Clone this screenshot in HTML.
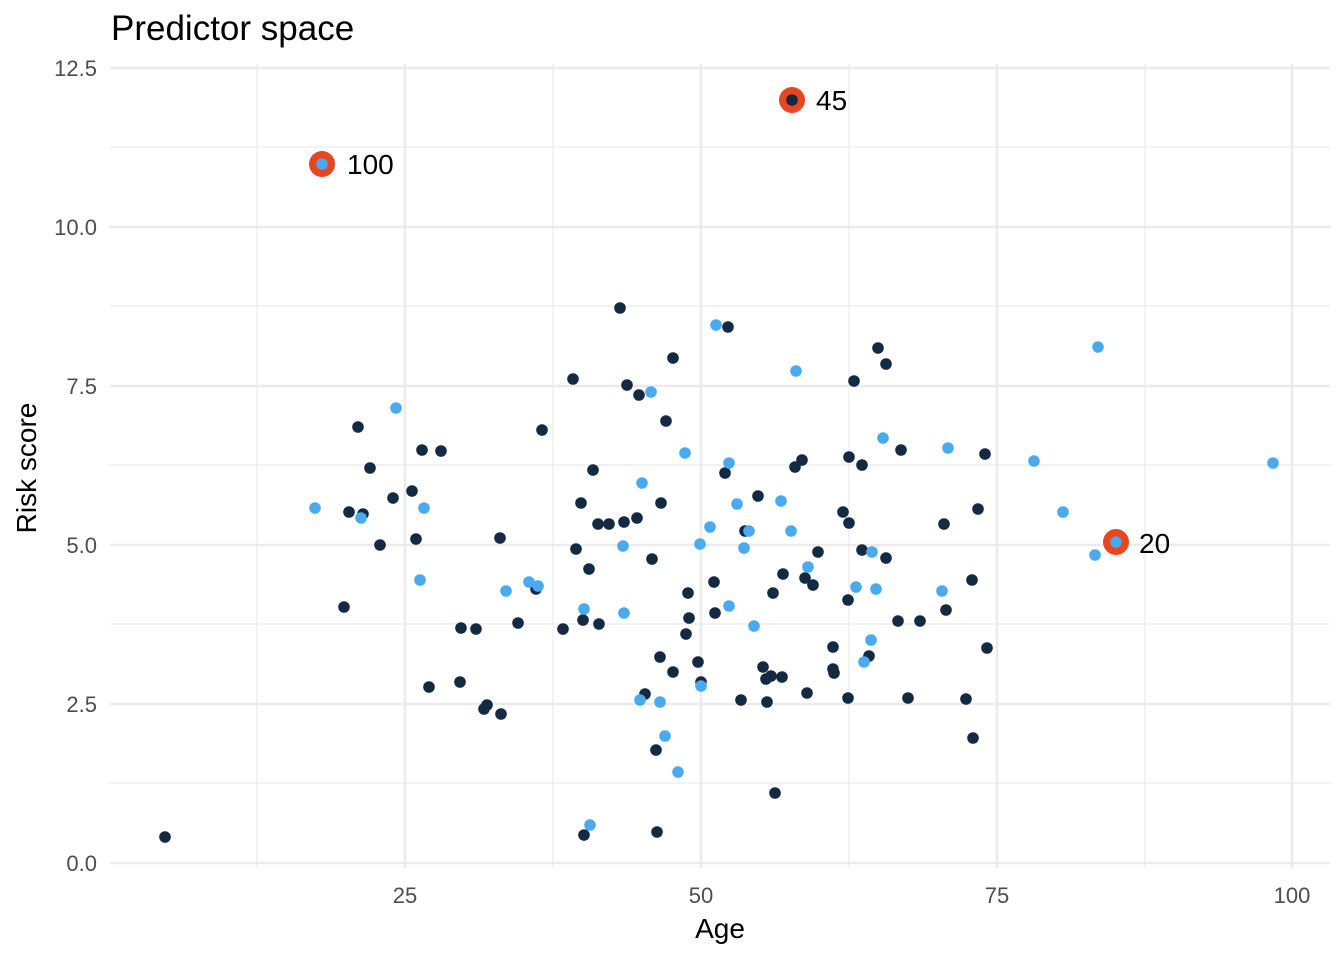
<!DOCTYPE html>
<html><head><meta charset="utf-8"><style>html,body{margin:0;padding:0;background:#fff}svg{display:block}</style></head>
<body>
<svg width="1344" height="960" xmlns="http://www.w3.org/2000/svg" font-family="Liberation Sans, sans-serif">
<rect width="1344" height="960" fill="#fff"/>
<g stroke="#ebebeb" stroke-width="1.2">
<line x1="257" y1="64" x2="257" y2="868"/><line x1="553" y1="64" x2="553" y2="868"/><line x1="849" y1="64" x2="849" y2="868"/><line x1="1145" y1="64" x2="1145" y2="868"/>
<line x1="110" y1="783" x2="1330" y2="783"/><line x1="110" y1="624" x2="1330" y2="624"/><line x1="110" y1="465" x2="1330" y2="465"/><line x1="110" y1="306" x2="1330" y2="306"/><line x1="110" y1="147" x2="1330" y2="147"/>
</g>
<g stroke="#ebebeb" stroke-width="2.4">
<line x1="405" y1="64" x2="405" y2="868"/><line x1="701" y1="64" x2="701" y2="868"/><line x1="997" y1="64" x2="997" y2="868"/><line x1="1292" y1="64" x2="1292" y2="868"/>
<line x1="110" y1="863" x2="1330" y2="863"/><line x1="110" y1="704" x2="1330" y2="704"/><line x1="110" y1="545" x2="1330" y2="545"/><line x1="110" y1="386" x2="1330" y2="386"/><line x1="110" y1="227" x2="1330" y2="227"/><line x1="110" y1="68" x2="1330" y2="68"/>
</g>
<g fill="#4d4d4d" font-size="22" text-anchor="end">
<text x="97" y="871">0.0</text><text x="97" y="712">2.5</text><text x="97" y="553">5.0</text><text x="97" y="394">7.5</text><text x="97" y="235">10.0</text><text x="97" y="76">12.5</text>
</g>
<g fill="#4d4d4d" font-size="22" text-anchor="middle">
<text x="405" y="903">25</text><text x="701" y="903">50</text><text x="997" y="903">75</text><text x="1292" y="903">100</text>
</g>
<text x="720" y="938" font-size="28" text-anchor="middle" fill="#000">Age</text>
<text transform="translate(36,468) rotate(-90)" font-size="28" text-anchor="middle" fill="#000">Risk score</text>
<text x="111" y="40" font-size="35" fill="#000">Predictor space</text>
<g fill="#132a42">
<circle cx="165" cy="837" r="5.8"/><circle cx="344" cy="607" r="5.8"/><circle cx="349" cy="512" r="5.8"/><circle cx="358" cy="427" r="5.8"/><circle cx="363" cy="514" r="5.8"/><circle cx="370" cy="468" r="5.8"/><circle cx="380" cy="545" r="5.8"/><circle cx="393" cy="498" r="5.8"/><circle cx="412" cy="491" r="5.8"/><circle cx="416" cy="539" r="5.8"/><circle cx="422" cy="450" r="5.8"/><circle cx="429" cy="687" r="5.8"/><circle cx="441" cy="451" r="5.8"/><circle cx="461" cy="628" r="5.8"/><circle cx="460" cy="682" r="5.8"/><circle cx="476" cy="629" r="5.8"/><circle cx="484" cy="709" r="5.8"/><circle cx="487" cy="705" r="5.8"/><circle cx="500" cy="538" r="5.8"/><circle cx="501" cy="714" r="5.8"/><circle cx="518" cy="623" r="5.8"/><circle cx="536" cy="589" r="5.8"/><circle cx="542" cy="430" r="5.8"/><circle cx="563" cy="629" r="5.8"/><circle cx="573" cy="379" r="5.8"/><circle cx="576" cy="549" r="5.8"/><circle cx="581" cy="503" r="5.8"/><circle cx="583" cy="620" r="5.8"/><circle cx="584" cy="835" r="5.8"/><circle cx="589" cy="569" r="5.8"/><circle cx="593" cy="470" r="5.8"/><circle cx="598" cy="524" r="5.8"/><circle cx="599" cy="624" r="5.8"/><circle cx="609" cy="524" r="5.8"/><circle cx="620" cy="308" r="5.8"/><circle cx="624" cy="522" r="5.8"/><circle cx="627" cy="385" r="5.8"/><circle cx="637" cy="518" r="5.8"/><circle cx="639" cy="395" r="5.8"/><circle cx="645" cy="694" r="5.8"/><circle cx="652" cy="559" r="5.8"/><circle cx="656" cy="750" r="5.8"/><circle cx="657" cy="832" r="5.8"/><circle cx="660" cy="657" r="5.8"/><circle cx="661" cy="503" r="5.8"/><circle cx="666" cy="421" r="5.8"/><circle cx="673" cy="358" r="5.8"/><circle cx="673" cy="672" r="5.8"/><circle cx="686" cy="634" r="5.8"/><circle cx="688" cy="593" r="5.8"/><circle cx="689" cy="618" r="5.8"/><circle cx="698" cy="662" r="5.8"/><circle cx="701" cy="682" r="5.8"/><circle cx="714" cy="582" r="5.8"/><circle cx="715" cy="613" r="5.8"/><circle cx="725" cy="473" r="5.8"/><circle cx="728" cy="327" r="5.8"/><circle cx="741" cy="700" r="5.8"/><circle cx="745" cy="531" r="5.8"/><circle cx="758" cy="496" r="5.8"/><circle cx="763" cy="667" r="5.8"/><circle cx="766" cy="679" r="5.8"/><circle cx="767" cy="702" r="5.8"/><circle cx="771" cy="676" r="5.8"/><circle cx="775" cy="793" r="5.8"/><circle cx="773" cy="593" r="5.8"/><circle cx="782" cy="677" r="5.8"/><circle cx="783" cy="574" r="5.8"/><circle cx="795" cy="467" r="5.8"/><circle cx="802" cy="460" r="5.8"/><circle cx="805" cy="578" r="5.8"/><circle cx="807" cy="693" r="5.8"/><circle cx="813" cy="585" r="5.8"/><circle cx="818" cy="552" r="5.8"/><circle cx="833" cy="647" r="5.8"/><circle cx="833" cy="669" r="5.8"/><circle cx="834" cy="673" r="5.8"/><circle cx="843" cy="512" r="5.8"/><circle cx="848" cy="600" r="5.8"/><circle cx="848" cy="698" r="5.8"/><circle cx="849" cy="457" r="5.8"/><circle cx="849" cy="523" r="5.8"/><circle cx="854" cy="381" r="5.8"/><circle cx="862" cy="465" r="5.8"/><circle cx="862" cy="550" r="5.8"/><circle cx="869" cy="656" r="5.8"/><circle cx="878" cy="348" r="5.8"/><circle cx="886" cy="364" r="5.8"/><circle cx="886" cy="558" r="5.8"/><circle cx="898" cy="621" r="5.8"/><circle cx="901" cy="450" r="5.8"/><circle cx="908" cy="698" r="5.8"/><circle cx="920" cy="621" r="5.8"/><circle cx="944" cy="524" r="5.8"/><circle cx="946" cy="610" r="5.8"/><circle cx="966" cy="699" r="5.8"/><circle cx="972" cy="580" r="5.8"/><circle cx="973" cy="738" r="5.8"/><circle cx="978" cy="509" r="5.8"/><circle cx="985" cy="454" r="5.8"/><circle cx="987" cy="648" r="5.8"/>
</g>
<g fill="#4aaaf0">
<circle cx="315" cy="508" r="5.8"/><circle cx="361" cy="518" r="5.8"/><circle cx="396" cy="408" r="5.8"/><circle cx="420" cy="580" r="5.8"/><circle cx="424" cy="508" r="5.8"/><circle cx="506" cy="591" r="5.8"/><circle cx="529" cy="582" r="5.8"/><circle cx="538" cy="586" r="5.8"/><circle cx="584" cy="609" r="5.8"/><circle cx="590" cy="825" r="5.8"/><circle cx="623" cy="546" r="5.8"/><circle cx="624" cy="613" r="5.8"/><circle cx="642" cy="483" r="5.8"/><circle cx="651" cy="392" r="5.8"/><circle cx="640" cy="700" r="5.8"/><circle cx="660" cy="702" r="5.8"/><circle cx="665" cy="736" r="5.8"/><circle cx="678" cy="772" r="5.8"/><circle cx="685" cy="453" r="5.8"/><circle cx="700" cy="544" r="5.8"/><circle cx="701" cy="686" r="5.8"/><circle cx="710" cy="527" r="5.8"/><circle cx="716" cy="325" r="5.8"/><circle cx="729" cy="463" r="5.8"/><circle cx="729" cy="606" r="5.8"/><circle cx="737" cy="504" r="5.8"/><circle cx="744" cy="548" r="5.8"/><circle cx="749" cy="531" r="5.8"/><circle cx="754" cy="626" r="5.8"/><circle cx="781" cy="501" r="5.8"/><circle cx="791" cy="531" r="5.8"/><circle cx="796" cy="371" r="5.8"/><circle cx="808" cy="567" r="5.8"/><circle cx="856" cy="587" r="5.8"/><circle cx="864" cy="662" r="5.8"/><circle cx="872" cy="552" r="5.8"/><circle cx="871" cy="640" r="5.8"/><circle cx="876" cy="589" r="5.8"/><circle cx="883" cy="438" r="5.8"/><circle cx="942" cy="591" r="5.8"/><circle cx="948" cy="448" r="5.8"/><circle cx="1034" cy="461" r="5.8"/><circle cx="1063" cy="512" r="5.8"/><circle cx="1095" cy="555" r="5.8"/><circle cx="1098" cy="347" r="5.8"/><circle cx="1273" cy="463" r="5.8"/>
</g>
<g fill="#e8461e">
<circle cx="322" cy="164" r="13"/><circle cx="792" cy="100" r="13"/><circle cx="1116" cy="542" r="13"/>
</g>
<circle cx="322" cy="164" r="5.8" fill="#4aaaf0"/><circle cx="792" cy="100" r="5.8" fill="#132a42"/><circle cx="1116" cy="542" r="5.8" fill="#4aaaf0"/>
<g font-size="28" fill="#000">
<text x="347" y="174">100</text><text x="816" y="110">45</text><text x="1139" y="553">20</text>
</g>
</svg>
</body></html>
